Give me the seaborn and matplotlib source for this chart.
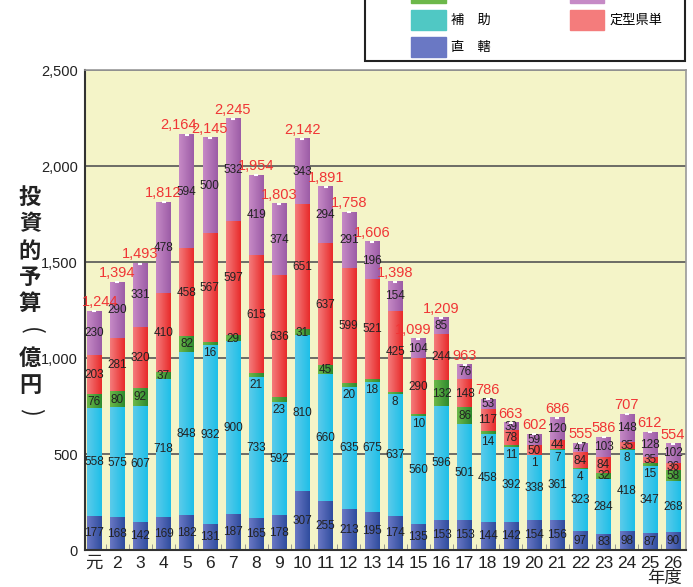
import numpy as np
import seaborn as sns
import matplotlib.pyplot as plt
from matplotlib.patches import Patch, Rectangle
from matplotlib.colors import LinearSegmentedColormap

years = ["元"] + [str(i) for i in range(2, 27)]
chokkatsu = [177, 168, 142, 169, 182, 131, 187, 165, 178, 307, 255, 213, 195,
             174, 135, 153, 153, 144, 142, 154, 156, 97, 83, 98, 87, 90]
hojo = [558, 575, 607, 718, 848, 932, 900, 733, 592, 810, 660, 635, 675,
        637, 560, 596, 501, 458, 392, 338, 361, 323, 284, 418, 347, 268]
green_vals = [76, 80, 92, 37, 82, 16, 29, 21, 23, 31, 45, 20, 18,
              8, 10, 132, 86, 14, 11, 1, 7, 4, 32, 8, 15, 58]
teikei = [203, 281, 320, 410, 458, 567, 597, 615, 636, 651, 637, 599, 521,
          425, 290, 244, 148, 117, 78, 50, 44, 84, 84, 35, 35, 36]
purple_vals = [230, 290, 331, 478, 594, 500, 532, 419, 374, 343, 294, 291, 196,
               154, 104, 85, 76, 53, 39, 59, 120, 47, 103, 148, 128, 102]
totals = ["1,244", "1,394", "1,493", "1,812", "2,164", "2,145", "2,245", "1,954",
          "1,803", "2,142", "1,891", "1,758", "1,606", "1,398", "1,099", "1,209",
          "963", "786", "663", "602", "686", "555", "586", "707", "612", "554"]

series = [chokkatsu, hojo, green_vals, teikei, purple_vals]
# light -> dark gradient colours per series
grads = [("#6a78c4", "#2f4c9e"), ("#5ccbea", "#1ebfe8"), ("#6cb84a", "#2e8a2e"),
         ("#f47c7c", "#e82a2a"), ("#c68ac6", "#9c5ca6")]
legend_labels = ["直　轄", "補　助", "交付金", "定型県単", "その他"]

plt.rcParams['font.family'] = ['Liberation Sans', 'Noto Sans CJK JP']

fig = plt.figure(figsize=(6.93, 5.87), dpi=100)
ax = fig.add_axes([85 / 693, 1 - 550 / 587, 601 / 693, 480 / 587])
ax.set_facecolor("#f4f4c8")

cum = np.cumsum(np.array(series), axis=0)
grad = np.linspace(0, 1, 64).reshape(1, -1)

# stacked bars: draw cumulative heights, tallest first
for k in range(4, -1, -1):
    n0 = len(ax.patches)
    sns.barplot(x=years, y=cum[k], color=grads[k][1], width=0.62,
                ax=ax, saturation=1, zorder=2)
    cmap = LinearSegmentedColormap.from_list(f"g{k}", grads[k])
    for p in ax.patches[n0:]:
        x0, w, h = p.get_x(), p.get_width(), p.get_height()
        ax.imshow(grad, cmap=cmap, extent=(x0, x0 + w, 0, h), aspect='auto',
                  interpolation='bilinear', zorder=2 + (4 - k) * 0.1)

# segment labels
for k in range(5):
    for i, v in enumerate(series[k]):
        bottom = cum[k][i] - v
        if k == 2 and v < 25:
            ax.annotate(str(v), (i, bottom), xytext=(0, -1), textcoords='offset points',
                        ha='center', va='top', fontsize=8.5, color='#222222', zorder=5)
        else:
            ax.text(i, bottom + v / 2, str(v), ha='center', va='center',
                    fontsize=8.5, color='#222222', zorder=5)

# totals (a few nudged sideways as in the original)
nudge = {0: 4.5, 4: -6, 14: -3.5}
for i, t in enumerate(totals):
    ax.annotate(t, (i, cum[4][i]), xytext=(nudge.get(i, 0), 1.5), textcoords='offset points',
                ha='center', va='bottom', fontsize=10.5, color='#f03535', zorder=5)
ax.scatter(range(len(years)), cum[4], marker='_', color='white', s=10, lw=1.5, zorder=6)

ax.set_xlim(-0.39, 25.56)
ax.set_ylim(0, 2500)
ax.set_yticks(range(0, 2501, 500))
ax.set_yticklabels([f"{v:,}" for v in range(0, 2501, 500)], fontsize=10.5, color='#222222')
ax.yaxis.grid(True, color='#555555', lw=1.2)
ax.set_axisbelow(True)
ax.tick_params(axis='y', length=0, pad=5)
ax.set_xticks(range(len(years)))
ax.set_xticklabels(years, fontsize=12.5, color='#222222')
ax.set_xticks(np.arange(0.5, 25, 1), minor=True)
ax.tick_params(axis='x', which='major', length=0, pad=4)
ax.tick_params(axis='x', which='minor', direction='in', length=4, color='#888888')
ax.set_xlabel("")
ax.set_ylabel("")
for s in ['left', 'bottom']:
    ax.spines[s].set_color('#333333')
    ax.spines[s].set_linewidth(1.5)
for s in ['top', 'right']:
    ax.spines[s].set_color('#999999')
    ax.spines[s].set_linewidth(1.2)

fig.text(665 / 693, 1 - 578 / 587, "年度", ha='center', va='center', fontsize=12.5, color='#222222')

# vertical y label
ylab = ["投", "資", "的", "予", "算", "(", "億", "円", ")"]
ypos = [197, 224, 251, 277, 303, 331, 358, 386, 412]
for ch, yp in zip(ylab, ypos):
    if ch in "()":
        fig.text(31 / 693, 1 - yp / 587, ch, ha='center', va='center', fontsize=17,
                 color='#222222', rotation=-90, family=['Noto Sans CJK JP'])
    else:
        fig.text(30 / 693, 1 - yp / 587, ch, ha='center', va='center', fontsize=16,
                 color='#222222', family=['Noto Sans CJK JP'], fontweight='bold')

# legend box (top cut off)
fig.add_artist(Rectangle((365 / 693, 1 - 61 / 587), 320 / 693, 0.2,
                         transform=fig.transFigure, fc='white', ec='#222222', lw=1.5,
                         zorder=1))
handles = [Patch(color=grads[2][0]), Patch(color="#50c8c4"), Patch(color=grads[0][0]),
           Patch(color=grads[4][0]), Patch(color=grads[3][0])]
labels = [legend_labels[2], legend_labels[1], legend_labels[0],
          legend_labels[4], legend_labels[3]]
fig.legend(handles, labels, ncol=2, loc='lower left',
           bbox_to_anchor=(411 / 693, 1 - 57 / 587), frameon=False, borderpad=0,
           borderaxespad=0, handlelength=2.65, handleheight=1.95, labelspacing=0.55,
           handletextpad=0.35, columnspacing=6.0, prop={'family': 'Noto Sans CJK JP', 'size': 9.5})

fig.savefig("out.png", dpi=100)
